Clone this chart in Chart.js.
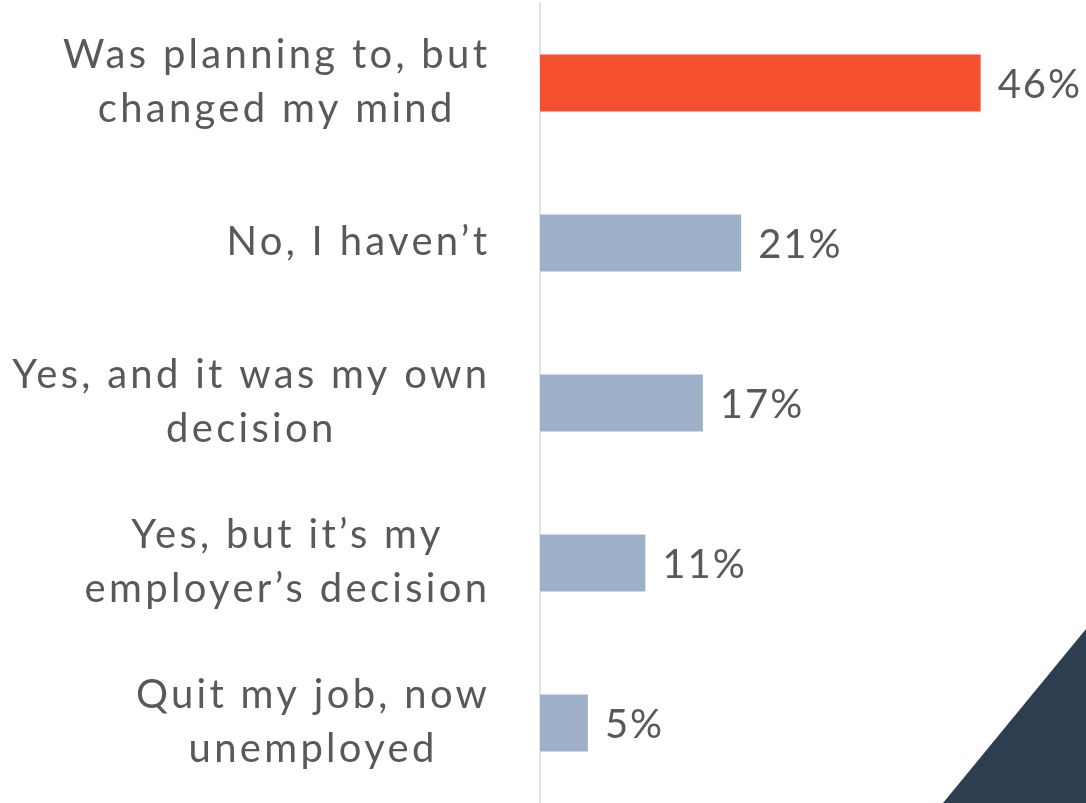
<!DOCTYPE html>
<html>
<head>
<meta charset="utf-8">
<script src="https://cdn.jsdelivr.net/npm/chart.js@4/dist/chart.umd.min.js"></script>
<style>
  html, body { margin: 0; padding: 0; background: #fff; }
  #wrap { width: 1086px; height: 803px; position: relative; }
</style>
</head>
<body>
<div id="wrap"><canvas id="quitChart"></canvas></div>
<script>
// Respostas (cada linha do rótulo é um item)
const answers = [
  ["Was planning to, but", "changed my mind"],
  ["No, I haven\u2019t"],
  ["Yes, and it was my own", "decision"],
  ["Yes, but it\u2019s my", "employer\u2019s decision"],
  ["Quit my job, now", "unemployed"]
];
const percents = [46, 21, 17, 11, 5];
const barColors = ["#F54F30", "#9DB0C8", "#9DB0C8", "#9DB0C8", "#9DB0C8"];

const textColor = "#595959";
const fontFamily = "Lato, 'Noto Sans', sans-serif";

// Desenha os rótulos da esquerda (linhas centradas, bloco alinhado à direita)
const answerLabels = {
  id: "answerLabels",
  afterDraw(chart) {
    const { ctx, chartArea, scales } = chart;
    const rightEdge = chartArea.left - 53;
    const lineHeight = 54;
    const spacing = 3.3;
    ctx.save();
    ctx.font = "400 40px " + fontFamily;
    ctx.letterSpacing = spacing + "px";
    ctx.fillStyle = textColor;
    ctx.textAlign = "left";
    ctx.textBaseline = "middle";
    answers.forEach((lines, i) => {
      const y = scales.y.getPixelForValue(i);
      // largura sem o espaçamento final
      const widths = lines.map(l => ctx.measureText(l).width - spacing);
      const widest = Math.max(...widths);
      const cx = rightEdge - widest / 2;
      const top = y - (lines.length - 1) * lineHeight / 2 - 1;
      lines.forEach((line, j) => ctx.fillText(line, cx - widths[j] / 2, top + j * lineHeight));
    });
    ctx.restore();
  }
};

// Valores em % ao lado das barras
const valueLabels = {
  id: "valueLabels",
  afterDatasetsDraw(chart) {
    const { ctx } = chart;
    const meta = chart.getDatasetMeta(0);
    ctx.save();
    ctx.font = "400 40px " + fontFamily;
    ctx.letterSpacing = "2px";
    ctx.fillStyle = textColor;
    ctx.textAlign = "left";
    ctx.textBaseline = "middle";
    meta.data.forEach((bar, i) => {
      ctx.fillText(percents[i] + "%", bar.x + 17, bar.y + 2);
    });
    ctx.restore();
  }
};

// Triângulo escuro no canto inferior direito
const cornerShape = {
  id: "cornerShape",
  beforeDraw(chart) {
    const { ctx, width, height } = chart;
    ctx.save();
    ctx.fillStyle = "#2D3E50";
    ctx.beginPath();
    ctx.moveTo(width - 143, height);
    ctx.lineTo(width, height - 174);
    ctx.lineTo(width, height);
    ctx.closePath();
    ctx.fill();
    ctx.restore();
  }
};

const chartConfig = {
  type: "bar",
  data: {
    labels: answers,
    datasets: [{
      data: percents,
      backgroundColor: barColors,
      borderWidth: 0,
      barPercentage: 0.356,
      categoryPercentage: 1
    }]
  },
  options: {
    indexAxis: "y",
    responsive: true,
    maintainAspectRatio: false,
    animation: false,
    layout: { padding: { top: 3, right: 0, bottom: 0, left: 0 } },
    plugins: {
      legend: { display: false },
      tooltip: { enabled: false }
    },
    scales: {
      x: {
        display: false,
        min: 0,
        max: 57
      },
      y: {
        grid: { display: false, drawTicks: false },
        border: { display: true, color: "#E3E3E3", width: 2 },
        ticks: { display: false },
        afterFit(scale) { scale.width = 540; }
      }
    }
  },
  plugins: [cornerShape, valueLabels, answerLabels]
};

const quitChart = new Chart(document.getElementById("quitChart"), chartConfig);
</script>
</body>
</html>
